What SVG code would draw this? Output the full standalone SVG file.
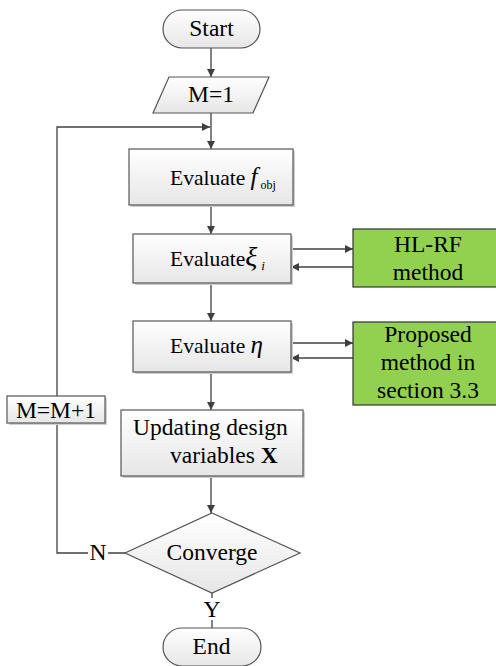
<svg xmlns="http://www.w3.org/2000/svg" width="496" height="666" viewBox="0 0 496 666" font-family="'Liberation Serif', 'Times New Roman', serif">
<defs>
<linearGradient id="g" x1="0" y1="0" x2="0" y2="1">
<stop offset="0" stop-color="#ffffff"/>
<stop offset="1" stop-color="#e6e6e6"/>
</linearGradient>
<marker id="ah" viewBox="0 0 10 10" refX="10" refY="5" markerWidth="9" markerHeight="8" markerUnits="userSpaceOnUse" orient="auto">
<path d="M0,0 L10,5 L0,10 z" fill="#404040"/>
</marker>
</defs>
<style>
.box{fill:url(#g);stroke:#555;stroke-width:1.2}
.sh{fill:#cfcfcf}
.grn{fill:#92d050;stroke:#333;stroke-width:1.2}
text{font-family:'Liberation Serif','Times New Roman',serif}
.t{font-size:23.5px;fill:#000}
.e{font-size:21.5px;fill:#000}
.c{text-anchor:middle}
.ln{fill:none;stroke:#404040;stroke-width:1.3}
.ar{fill:none;stroke:#404040;stroke-width:1.3;marker-end:url(#ah)}
</style>
<rect width="496" height="666" fill="#fff"/>
<g id="connectors">
<line class="ar" x1="211" y1="48" x2="211" y2="77"/>
<line class="ar" x1="211" y1="113" x2="211" y2="149"/>
<polyline class="ar" points="125,553 57,553 57,127 210,127"/>
<line class="ar" x1="211" y1="205" x2="211" y2="234"/>
<line class="ar" x1="291" y1="249" x2="353" y2="249"/>
<line class="ar" x1="353" y1="267" x2="291" y2="267"/>
<line class="ar" x1="211" y1="283" x2="211" y2="321"/>
<line class="ar" x1="291" y1="343" x2="353" y2="343"/>
<line class="ar" x1="353" y1="358" x2="291" y2="358"/>
<line class="ar" x1="211" y1="372" x2="211" y2="410"/>
<line class="ar" x1="211" y1="476" x2="211" y2="513"/>
<line class="ln" x1="212" y1="593" x2="212" y2="628"/>
</g>
<g id="start">
<rect x="163" y="10" width="97" height="38" rx="19" class="box"/>
<text x="211.5" y="36" class="t c">Start</text>
</g>
<g id="m1">
<polygon points="169,77 269,77 253,113 153,113" class="box"/>
<text x="211" y="102" class="t c">M=1</text>
</g>
<g id="fobj">
<rect x="131" y="151" width="164" height="56" class="sh"/>
<rect x="129" y="149" width="164" height="56" class="box"/>
<text x="170" y="185" class="e">Evaluate <tspan font-style="italic" font-size="25">f</tspan><tspan font-size="12" dy="4" dx="3">obj</tspan></text>
</g>
<g id="xi">
<rect x="135" y="236" width="158" height="49" class="sh"/>
<rect x="133" y="234" width="158" height="49" class="box"/>
<text x="170" y="266" class="e">Evaluate<tspan font-style="italic" font-size="28">ξ</tspan><tspan font-style="italic" font-size="13" dy="4" dx="4">i</tspan></text>
</g>
<g id="hlrf">
<rect x="353" y="229" width="150" height="58" class="grn"/>
<text x="428" y="252" class="t c">HL-RF</text>
<text x="428" y="280" class="t c">method</text>
</g>
<g id="eta">
<rect x="135" y="323" width="158" height="51" class="sh"/>
<rect x="133" y="321" width="158" height="51" class="box"/>
<text x="170" y="353" class="e">Evaluate <tspan font-style="italic" font-size="25">η</tspan></text>
</g>
<g id="proposed">
<rect x="353" y="322" width="150" height="83" class="grn"/>
<text x="428" y="342" class="t c">Proposed</text>
<text x="428" y="370" class="t c">method in</text>
<text x="428" y="398" class="t c">section 3.3</text>
</g>
<g id="update">
<rect x="123" y="412" width="182" height="66" class="sh"/>
<rect x="121" y="410" width="182" height="66" class="box"/>
<text x="133" y="435" class="t">Updating design</text>
<text x="170" y="463" class="t">variables  <tspan font-weight="bold">X</tspan></text>
</g>
<g id="mm1">
<rect x="9" y="398" width="98" height="27" class="sh"/>
<rect x="7" y="396" width="98" height="27" class="box"/>
<text x="56" y="418" class="t c">M=M+1</text>
</g>
<g id="converge">
<polygon points="212,513 300,553 212,593 125,553" class="box"/>
<text x="212" y="560" class="t c">Converge</text>
</g>
<g id="labels">
<rect x="88" y="542" width="20" height="22" fill="#fff"/>
<text x="98" y="560" class="t c">N</text>
<rect x="202" y="598" width="20" height="22" fill="#fff"/>
<text x="212" y="617" class="t c">Y</text>
</g>
<g id="end">
<rect x="163" y="628" width="98" height="38" rx="19" class="box"/>
<text x="211.5" y="654" class="t c">End</text>
</g>
</svg>
